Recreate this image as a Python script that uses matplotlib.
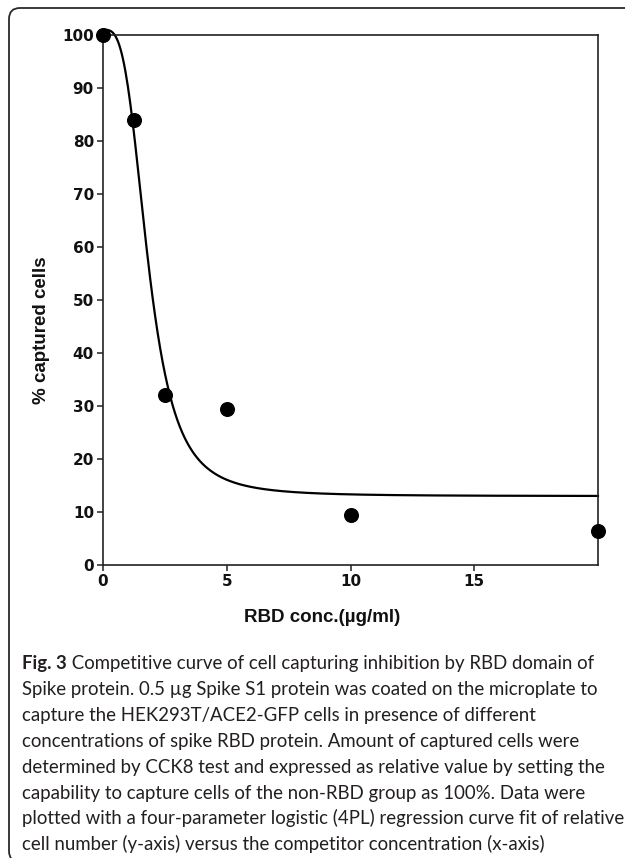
import numpy as np
import matplotlib
matplotlib.use("Agg")
import matplotlib.pyplot as plt
from matplotlib.patches import FancyBboxPatch

# ---- data ----
conc = [0, 1.25, 2.5, 5, 10, 20]            # RBD conc. (ug/ml)
captured = [100, 84, 32, 29.5, 9.5, 6.5]    # % captured cells

# 4PL fit parameters (estimated from the drawn curve)
fit_top = 101.0
fit_bottom = 13.0
fit_ec50 = 1.83
fit_hill = 3.3

x_ticks = [0, 5, 10, 15]
y_ticks = [0, 10, 20, 30, 40, 50, 60, 70, 80, 90, 100]

caption_bold = "Fig. 3"
caption_lines = [
    " Competitive curve of cell capturing inhibition by RBD domain of",
    "Spike protein. 0.5 \u00b5g Spike S1 protein was coated on the microplate to",
    "capture the HEK293T/ACE2-GFP cells in presence of different",
    "concentrations of spike RBD protein. Amount of captured cells were",
    "determined by CCK8 test and expressed as relative value by setting the",
    "capability to capture cells of the non-RBD group as 100%. Data were",
    "plotted with a four-parameter logistic (4PL) regression curve fit of relative",
    "cell number (y-axis) versus the competitor concentration (x-axis)",
]

W, H = 625, 858
fig = plt.figure(figsize=(W / 100, H / 100), dpi=100)

# frame around figure + caption
border = FancyBboxPatch((9, -4), 700, 858 - 8 + 4,
                        boxstyle="round,pad=0,rounding_size=11",
                        transform=None, fill=False, edgecolor="#2a2a2a",
                        linewidth=1.3)
fig.patches.append(border)

ax = fig.add_axes([103 / W, 1 - 565 / H, (598 - 103) / W, (565 - 35) / H])

def fourpl(x):
    x = np.asarray(x, dtype=float)
    return fit_bottom + (fit_top - fit_bottom) / (1 + (x / fit_ec50) ** fit_hill)

xs = np.linspace(0, 20, 400)
ax.plot(xs, fourpl(xs), color="black", linewidth=1.6, zorder=2, clip_on=False)
ax.plot(conc, captured, linestyle="none", marker="o", markersize=9.8,
        color="black", zorder=3, clip_on=False)

ax.set_xlim(0, 20)
ax.set_ylim(0, 100)
ax.set_xticks(x_ticks)
ax.set_yticks(y_ticks)
tick_font = {"family": "DejaVu Sans", "weight": "bold", "size": 11}
ax.set_xticklabels([str(t) for t in x_ticks], fontdict=tick_font)
ax.set_yticklabels([str(t) for t in y_ticks], fontdict=tick_font)
ax.tick_params(direction="out", length=4.5, width=1.1, color="#222222",
               labelcolor="#111111", pad=2)
for s in ax.spines.values():
    s.set_linewidth(1.2)
    s.set_color("#222222")

fig.text(42 / W, 1 - 330 / H, "% captured cells", rotation=90,
         ha="center", va="center", family="Liberation Sans",
         weight="bold", size=13.5, color="#111111")
fig.text(322 / W, 1 - 617 / H, "RBD conc.(\u00b5g/ml)", ha="center",
         va="center", family="Liberation Sans", weight="bold", size=13.5,
         color="#111111")

# caption
fig.canvas.draw()
renderer = fig.canvas.get_renderer()
cap_color = "#231f20"
cap_family = "Lato"
x0 = 22
target_w = 597 - 22
fs = 12.0
# fit font size so that first line matches width
for _ in range(3):
    tb = fig.text(0, 0, caption_bold, family=cap_family, weight="bold", size=fs)
    tr = fig.text(0, 0, caption_lines[0], family=cap_family, size=fs)
    w = tb.get_window_extent(renderer).width + tr.get_window_extent(renderer).width
    tb.remove(); tr.remove()
    fs = fs * target_w / w

base_y = 858 - 669
step = 25.9
tb = fig.text(x0 / W, base_y / H, caption_bold, family=cap_family,
              weight="bold", size=fs, color=cap_color, va="baseline")
bw = tb.get_window_extent(renderer).width
for i, line in enumerate(caption_lines):
    xx = x0 + (bw if i == 0 else 0)
    fig.text(xx / W, (base_y - i * step) / H, line, family=cap_family,
             size=fs, color=cap_color, va="baseline")

fig.savefig("out.png", dpi=100)
